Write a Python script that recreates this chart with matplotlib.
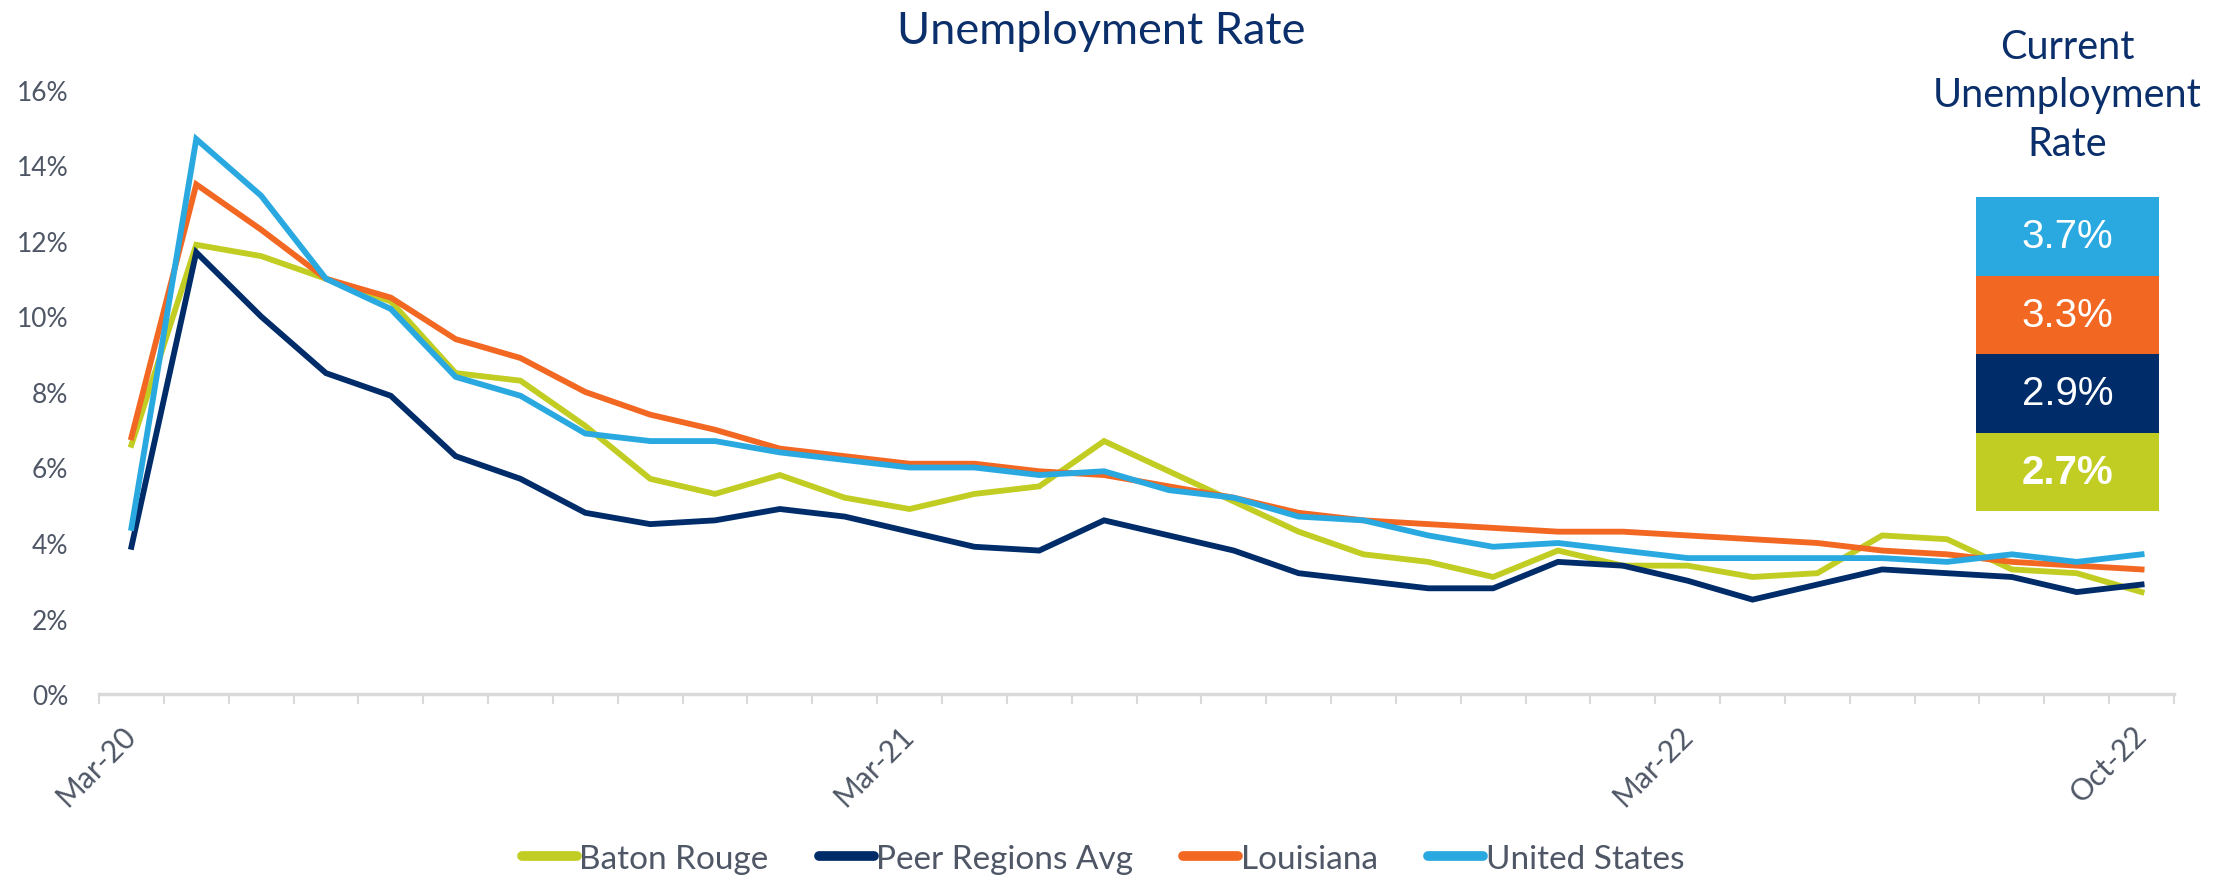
import matplotlib
matplotlib.use("Agg")
import matplotlib.pyplot as plt
from matplotlib.ticker import FuncFormatter

months = ["Mar-20", "Apr-20", "May-20", "Jun-20", "Jul-20", "Aug-20", "Sep-20", "Oct-20",
          "Nov-20", "Dec-20", "Jan-21", "Feb-21", "Mar-21", "Apr-21", "May-21", "Jun-21",
          "Jul-21", "Aug-21", "Sep-21", "Oct-21", "Nov-21", "Dec-21", "Jan-22", "Feb-22",
          "Mar-22", "Apr-22", "May-22", "Jun-22", "Jul-22", "Aug-22", "Sep-22", "Oct-22"]
shown_labels = ["Mar-20", "Mar-21", "Mar-22", "Oct-22"]

baton_rouge = [6.6, 11.9, 11.6, 11.0, 10.4, 8.5, 8.3, 7.1, 5.7, 5.3,
               5.8, 5.2, 4.9, 5.3, 5.5, 6.7, 5.9, 5.1, 4.3, 3.7, 3.5, 3.1,
               3.8, 3.4, 3.4, 3.1, 3.2, 4.2, 4.1, 3.3, 3.2, 2.7]
peer_avg = [3.9, 11.7, 10.0, 8.5, 7.9, 6.3, 5.7, 4.8, 4.5, 4.6,
            4.9, 4.7, 4.3, 3.9, 3.8, 4.6, 4.2, 3.8, 3.2, 3.0, 2.8, 2.8,
            3.5, 3.4, 3.0, 2.5, 2.9, 3.3, 3.2, 3.1, 2.7, 2.9]
louisiana = [6.8, 13.5, 12.3, 11.0, 10.5, 9.4, 8.9, 8.0, 7.4, 7.0,
             6.5, 6.3, 6.1, 6.1, 5.9, 5.8, 5.5, 5.2, 4.8, 4.6, 4.5, 4.4,
             4.3, 4.3, 4.2, 4.1, 4.0, 3.8, 3.7, 3.5, 3.4, 3.3]
united_states = [4.4, 14.7, 13.2, 11.0, 10.2, 8.4, 7.9, 6.9, 6.7, 6.7,
                 6.4, 6.2, 6.0, 6.0, 5.8, 5.9, 5.4, 5.2, 4.7, 4.6, 4.2, 3.9,
                 4.0, 3.8, 3.6, 3.6, 3.6, 3.6, 3.5, 3.7, 3.5, 3.7]

series_names = ["Baton Rouge", "Peer Regions Avg", "Louisiana", "United States"]
colors = {"Baton Rouge": "#C2CD23", "Peer Regions Avg": "#002D6A",
          "Louisiana": "#F26722", "United States": "#29A9E0"}

NAVY = "#0B2F6B"
LABEL = "#4F5766"
AXIS = "#D9D9D9"
sans = ["Liberation Sans", "DejaVu Sans"]
humanist = ["Lato", "DejaVu Sans"]

W, H = 2225, 878
fig = plt.figure(figsize=(W / 100, H / 100), dpi=100)
ax = fig.add_axes([99 / W, 1 - 695 / H, (2174 - 99) / W, (695 - 91) / H])

x = list(range(len(months)))
data = [baton_rouge, peer_avg, louisiana, united_states]
for name, vals in zip(series_names, data):
    ax.plot(x, vals, color=colors[name], lw=4.2, label=name, solid_joinstyle="miter")

ax.set_xlim(-0.5, len(months) - 0.5)
ax.set_ylim(0, 16)
ax.set_yticks(range(0, 17, 2))
ax.yaxis.set_major_formatter(FuncFormatter(lambda v, p: f"{v:.0f}%"))
ax.tick_params(axis="y", length=0, pad=22, labelsize=19, labelcolor=LABEL)
for lab in ax.get_yticklabels():
    lab.set_family(humanist)

tick_pos = [months.index(m) for m in shown_labels]
ax.set_xticks(tick_pos)
ax.set_xticklabels(shown_labels, rotation=45, ha="right", va="center",
                   rotation_mode="anchor", family=humanist, fontsize=21.5, color=LABEL)
ax.set_xticks([i - 0.5 for i in range(len(months) + 1)], minor=True)
ax.tick_params(axis="x", which="major", length=0, pad=26)
ax.tick_params(axis="x", which="minor", length=7, width=1.5, color=AXIS)

for s in ["top", "right", "left"]:
    ax.spines[s].set_visible(False)
ax.spines["bottom"].set_color(AXIS)
ax.spines["bottom"].set_linewidth(2.5)

fig.text(1101 / W, 1 - 31 / H, "Unemployment Rate", ha="center", va="center",
         fontsize=32.5, color=NAVY, family=humanist)

leg = fig.legend(loc="center", bbox_to_anchor=(1103 / W, 1 - 860 / H), ncol=4,
                 frameon=False, handlelength=1.65, handletextpad=0.08,
                 columnspacing=1.5, prop={"family": humanist, "size": 24})
for t in leg.get_texts():
    t.set_color(LABEL)
for h in leg.get_lines():
    h.set_linewidth(7)
    h.set_solid_capstyle("round")

# current rate panel
fig.text(2067 / W, 1 - 96 / H, "Current\nUnemployment\nRate", ha="center", va="center",
         fontsize=28.5, color=NAVY, family=humanist, linespacing=1.38)

pax = fig.add_axes([1976 / W, 1 - 512 / H, 183 / W, (512 - 198) / H])
current = [united_states[-1], louisiana[-1], peer_avg[-1], baton_rouge[-1]]
order = ["United States", "Louisiana", "Peer Regions Avg", "Baton Rouge"]
ypos = [3, 2, 1, 0]
pax.barh(ypos, [1] * 4, height=1, color=[colors[n] for n in order])
for yv, val, name in zip(ypos, current, order):
    pax.text(0.5, yv, f"{val:.1f}%", ha="center", va="center", color="white",
             fontsize=29, family=sans,
             fontweight="bold" if name == "Baton Rouge" else "normal")
pax.set_xlim(0, 1)
pax.set_ylim(-0.5, 3.5)
pax.axis("off")

fig.savefig("out.png", dpi=100)
